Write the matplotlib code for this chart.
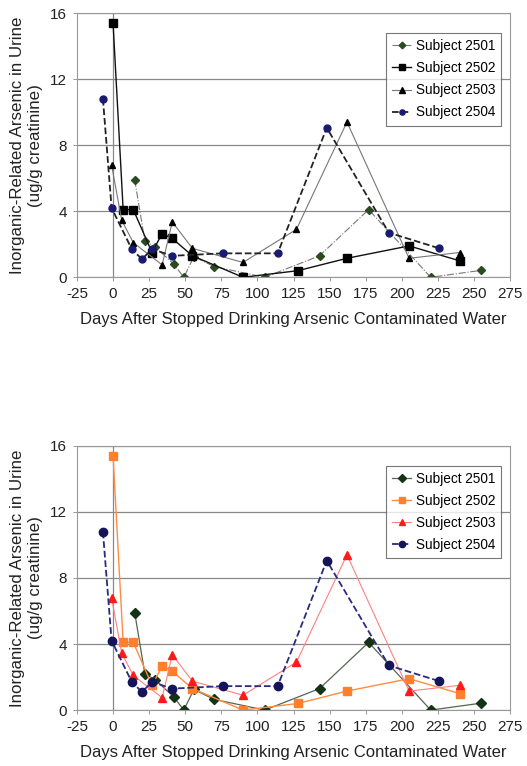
import numpy as np
import matplotlib.pyplot as plt

plt.rcParams['font.family'] = ['Liberation Sans', 'DejaVu Sans']
plt.rcParams['axes.unicode_minus'] = False

# days after stopping, and inorganic-related arsenic (ug/g creatinine)
days_2501 = [15, 22, 29, 42, 49, 56, 70, 105, 143, 177, 220, 255]
ars_2501 = [5.9, 2.2, 1.85, 0.8, 0.0, 1.25, 0.65, 0.0, 1.3, 4.1, 0.0, 0.42]

days_2502 = [0, 7, 14, 27, 34, 41, 55, 90, 128, 162, 205, 240]
ars_2502 = [15.4, 4.1, 4.1, 1.5, 2.65, 2.35, 1.3, 0.0, 0.4, 1.15, 1.9, 1.0]

days_2503 = [-1, 6, 14, 34, 41, 55, 90, 127, 162, 205, 240]
ars_2503 = [6.8, 3.45, 2.1, 0.75, 3.35, 1.75, 0.9, 2.9, 9.4, 1.15, 1.5]

days_2504 = [-7, -1, 13, 20, 27, 41, 76, 114, 148, 191, 226]
ars_2504 = [10.8, 4.2, 1.7, 1.1, 1.7, 1.3, 1.45, 1.45, 9.05, 2.7, 1.75]

labels = ['Subject 2501', 'Subject 2502', 'Subject 2503', 'Subject 2504']
xticks = np.arange(-25, 276, 25)
yticks = [0, 4, 8, 12, 16]

fig = plt.figure(figsize=(5.27, 7.66), dpi=100)
ax1 = fig.add_axes([0.146, 0.638, 0.822, 0.345])
ax2 = fig.add_axes([0.146, 0.073, 0.822, 0.345])


def style_axes(ax):
    ax.set_xlim(-25, 275)
    ax.set_ylim(0, 16)
    ax.set_xticks(xticks)
    ax.set_yticks(yticks)
    ax.grid(axis='y', color='#888888', lw=0.9)
    ax.axvline(0, color='#888888', lw=0.9, zorder=1)
    for s in ax.spines.values():
        s.set_color('#999999')
        s.set_linewidth(0.8)
    ax.tick_params(axis='both', labelsize=11, colors='#222222',
                   length=3, width=0.7, direction='out', pad=4)
    ax.tick_params(axis='both', color='#999999')
    ax.set_xlabel('Days After Stopped Drinking Arsenic Contaminated Water',
                  fontsize=12, color='#222222', labelpad=8)
    ax.set_ylabel('Inorganic-Related Arsenic in Urine\n(ug/g creatinine)',
                  fontsize=12.2, color='#222222', labelpad=5, linespacing=1.3)
    ax.set_axisbelow(True)


# top panel: mostly black & grey
ax1.plot(days_2501, ars_2501, ls='-.', color='#777777', lw=0.8,
         marker='D', ms=4.5, mfc='#2a4a22', mec='#2a4a22', label=labels[0])
ax1.plot(days_2502, ars_2502, ls='-', color='#111111', lw=1.0,
         marker='s', ms=6, mfc='black', mec='black', label=labels[1])
ax1.plot(days_2503, ars_2503, ls='-', color='#777777', lw=0.8,
         marker='^', ms=5, mfc='black', mec='black', label=labels[2])
ax1.plot(days_2504, ars_2504, ls='--', color='#222222', lw=1.3,
         marker='o', ms=5, mfc='#1a1a70', mec='#1a1a70', label=labels[3])

# bottom panel: coloured
ax2.plot(days_2501, ars_2501, ls='-', color='#556655', lw=0.9,
         marker='D', ms=5, mfc='#143214', mec='#143214', label=labels[0])
ax2.plot(days_2502, ars_2502, ls='-', color='#ff8c40', lw=1.0,
         marker='s', ms=6, mfc='#ff7f2a', mec='#ff7f2a', label=labels[1])
ax2.plot(days_2503, ars_2503, ls='-', color='#ff8080', lw=0.8,
         marker='^', ms=6, mfc='#ff1a1a', mec='#ff1a1a', label=labels[2])
ax2.plot(days_2504, ars_2504, ls='--', color='#2a2a80', lw=1.3,
         marker='o', ms=6, mfc='#14145a', mec='#14145a', label=labels[3])

for ax in (ax1, ax2):
    style_axes(ax)
    leg = ax.legend(loc='upper right', bbox_to_anchor=(0.98, 0.925),
                    fontsize=9.8, frameon=True, fancybox=False,
                    edgecolor='#555555', handlelength=1.4, borderpad=0.45,
                    labelspacing=0.6, handletextpad=0.35, borderaxespad=0,
                    markerscale=0.75)
    leg.get_frame().set_linewidth(0.8)

fig.savefig('out.png', dpi=100, facecolor='white')
